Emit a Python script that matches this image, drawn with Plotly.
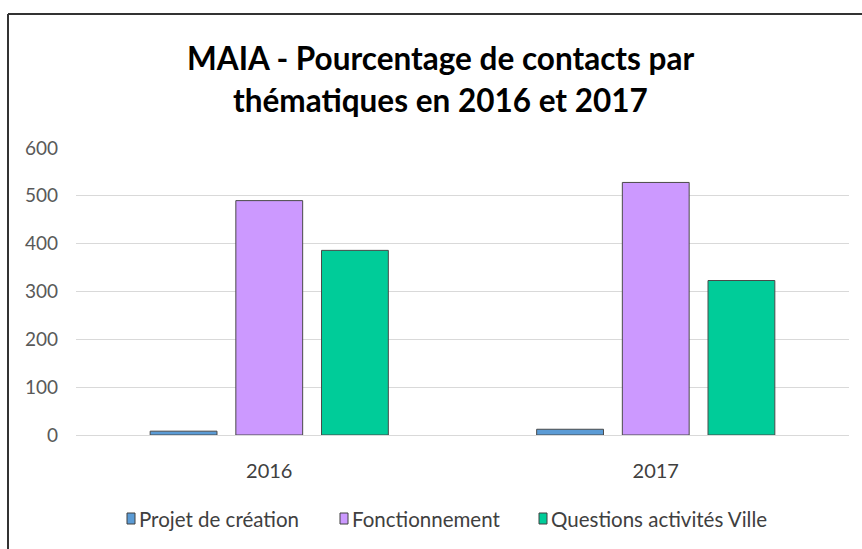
import plotly.graph_objects as go

years = ["2016", "2017"]
series_names = ["Projet de création", "Fonctionnement", "Questions activités Ville"]
projet = [8, 12]
fonctionnement = [490, 528]
questions = [386, 323]
y_ticks = [0, 100, 200, 300, 400, 500, 600]
colors = ["#5B9BD5", "#CC99FF", "#00CC99"]

W, H = 862, 549
ml, mr, mt, mb = 76, 13, 148, 114
pw, ph = W - ml - mr, H - mt - mb

def px_x(px):
    return (px - ml) / pw

def px_y(py):
    return (H - mb - py) / ph

fig = go.Figure()
for name, vals, col in zip(series_names, [projet, fonctionnement, questions], colors):
    fig.add_trace(go.Bar(
        x=years, y=vals, name=name, showlegend=False,
        marker=dict(color=col, line=dict(color="#4A4A4A", width=1)),
    ))

font_family = "Lato, Open Sans, sans-serif"
fig.update_layout(
    width=W, height=H,
    margin=dict(l=ml, r=mr, t=mt, b=mb),
    paper_bgcolor="white", plot_bgcolor="white",
    barmode="group", bargap=0.335, bargroupgap=0.22,
    font=dict(family=font_family, color="#595959", size=16),
    showlegend=False,
)
# title lines
title_lines = ["MAIA - Pourcentage de contacts par", "thématiques en 2016 et 2017"]
for line, ty in zip(title_lines, [58, 100]):
    fig.add_annotation(text="<b>" + line + "</b>", xref="paper", yref="paper",
                       x=px_x(440), y=px_y(ty), xanchor="center", yanchor="middle",
                       showarrow=False, font=dict(family=font_family, size=31.5, color="#000000"))

fig.update_yaxes(
    range=[0, 600], tickvals=y_ticks, showgrid=True, gridcolor="#D9D9D9", gridwidth=1,
    zeroline=False, showline=False, ticks="", ticklabelstandoff=17,
    tickfont=dict(size=19, color="#595959"),
)
fig.update_xaxes(
    showgrid=False, showline=True, linecolor="#D9D9D9", linewidth=1, ticks="",
    ticklabelstandoff=18, tickfont=dict(size=20, color="#404040"),
)

# legend (manual, Excel-like: small square right next to the label)
legend_x = [127, 340, 539]
legend_y = 519
for name, col, lx in zip(series_names, colors, legend_x):
    fig.add_shape(type="rect", xref="paper", yref="paper",
                  x0=px_x(lx), x1=px_x(lx + 8), y0=px_y(legend_y + 5), y1=px_y(legend_y - 6),
                  fillcolor=col, line=dict(color="#404040", width=1))
    fig.add_annotation(text=name, xref="paper", yref="paper", x=px_x(lx + 10), y=px_y(legend_y),
                       xanchor="left", yanchor="middle", showarrow=False,
                       font=dict(family=font_family, size=20.5, color="#404040"))

# outer frame (top and left edges as in the reference)
fig.add_shape(type="line", xref="paper", yref="paper", x0=px_x(8), x1=px_x(W + 5),
              y0=px_y(14), y1=px_y(14), line=dict(color="#333333", width=2))
fig.add_shape(type="line", xref="paper", yref="paper", x0=px_x(8), x1=px_x(8),
              y0=px_y(14), y1=px_y(H + 5), line=dict(color="#333333", width=2))

fig.write_html("out.html", config={"displayModeBar": False},
               post_script="document.body.style.margin='0';document.body.style.overflow='hidden';")
